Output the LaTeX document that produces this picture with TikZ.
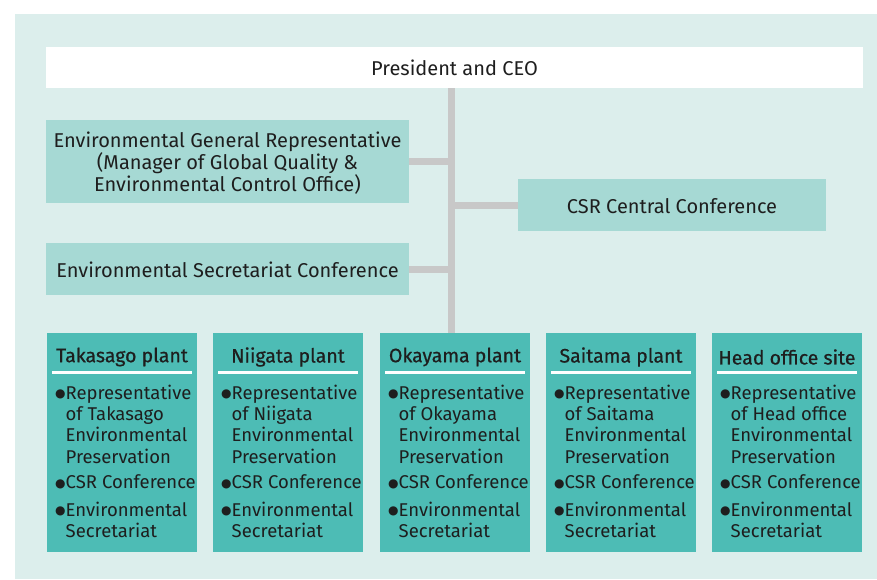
\documentclass[tikz,border=0pt]{standalone}
\usepackage{fontspec}
\setmainfont{Fira Sans}
\newfontfamily\symfont{DejaVu Sans}
\newfontfamily\titlefont[FakeBold=0.6]{Fira Sans}
\usetikzlibrary{positioning}

\definecolor{bgteal}{RGB}{220,238,236}
\definecolor{lightteal}{RGB}{166,217,212}
\definecolor{darkteal}{RGB}{77,188,181}
\definecolor{linkgray}{RGB}{200,200,200}
\definecolor{inkblack}{RGB}{30,30,30}

\newcommand{\dotmark}{\raisebox{1.2pt}{\symfont\fontsize{12}{12}\selectfont ●}}
\newcommand{\sitelist}[1]{%
  \begin{tabular}{@{}l@{}l@{}}
  \dotmark&Representative\\
  &of #1\\
  &Environmental\\
  &Preservation\\[4.5pt]
  \dotmark&CSR Conference\\[6pt]
  \dotmark&Environmental\\
  &Secretariat
  \end{tabular}}

\begin{document}
\begin{tikzpicture}[x=1pt,y=-1pt,
  every node/.style={text=inkblack,font=\fontsize{20}{21}\selectfont},
  whitebox/.style={fill=white,inner sep=0pt},
  lightbox/.style={fill=lightteal,inner sep=0pt,align=center},
  plantbox/.style={fill=darkteal,inner sep=0pt,minimum width=150,minimum height=219},
  plantitle/.style={inner sep=0pt,font=\titlefont\fontsize{19.5}{21}\selectfont},
  plantitems/.style={inner sep=0pt,anchor=north west,font=\fontsize{18.5}{21.3}\selectfont},
  link/.style={draw=linkgray,line width=7pt},
  whiteline/.style={draw=white,line width=3pt}]
\useasboundingbox (0,0) rectangle (877,579);

%Shape: Rectangle
\fill[bgteal] (15,14) rectangle (877,579);

% Text Node
\node[whitebox,minimum width=817,minimum height=41] (ceo) at (454.5,67.5) {President and CEO};
% Text Node
\node[lightbox,minimum width=363,minimum height=83] (envrep) at (227.5,161.5) {\rule{0pt}{19pt}Environmental General Representative\\(Manager of Global Quality \&\\Environmental Control Office)};
% Text Node
\node[lightbox,minimum width=308,minimum height=52] (csrcentral) at (672,205) {\rule{0pt}{17pt}CSR Central Conference};
% Text Node
\node[lightbox,minimum width=363,minimum height=52] (envsec) at (227.5,269) {\rule{0pt}{17pt}Environmental Secretariat Conference};

%Shape: plant boxes
\foreach \px/\nm/\site/\place in {122/taka/Takasago plant/Takasago,288/niig/Niigata plant/Niigata,455/okay/Okayama plant/Okayama,621/sait/Saitama plant/Saitama,787/head/Head office site/Head office}{
  \node[plantbox] (\nm) at (\px,442.5) {};
  \node[plantitle] (\nm-title) at (\px,357) {\site};
  \draw[whiteline] (\px-70,372) -- (\px+70,372);
  \node[plantitems] (\nm-list) at (\px-67,384) {\sitelist{\place}};
}

%Straight Lines
\coordinate (trunk) at ([xshift=-4pt]okay.north);
\draw[link] (ceo.south -| trunk) -- (trunk);
\draw[link] (envrep.east) -- (envrep.east -| trunk);
\draw[link] (envsec.east) -- (envsec.east -| trunk);
\draw[link] (csrcentral.west) -- (csrcentral.west -| trunk);

\end{tikzpicture}
\end{document}
